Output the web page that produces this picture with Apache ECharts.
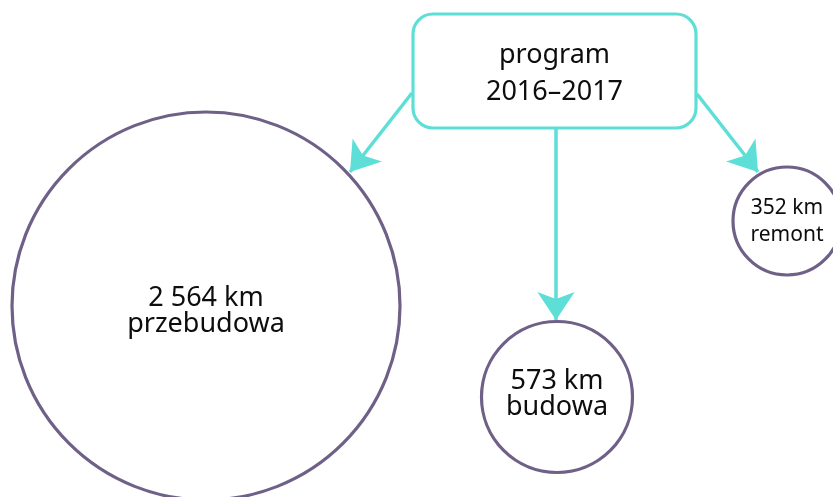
<!DOCTYPE html>
<html>
<head>
<meta charset="utf-8">
<script src="https://cdn.jsdelivr.net/npm/echarts@6/dist/echarts.min.js"></script>
<style>html,body{margin:0;padding:0;background:#fff}#c{width:833px;height:497px}</style>
</head>
<body>
<div id="c"></div>
<script>
// ---- data ----
const categories = ['przebudowa', 'budowa', 'remont'];
const lengthsKm = [2564, 573, 352];
const programLines = ['program', '2016–2017'];

// ---- layout (pixel space) ----
const centers = [[206, 306], [557, 397], [787, 221]];
const diameters = [388, 151, 108];
const labelSizes = [27, 27, 21];
const labelLineHeights = [26, 26, 27];
const labelOffsets = [[0, 5], [0, -3], [0, 1]];
const boxRect = { x: 413, y: 14, width: 283, height: 114, r: 20 };
const arrows = [
  [[412, 93], [350, 172]],
  [[556, 128], [556, 320]],
  [[697, 94], [758, 172]]
];

const CYAN = '#5ddfd8';
const PURPLE = '#6f6088';
const FONT = 'Noto Sans';

function fmt(v) { return String(v).replace(/\B(?=(\d{3})+(?!\d))/g, ' '); }

const chart = echarts.init(document.getElementById('c'), null, { renderer: 'canvas' });
chart.setOption({
  animation: false,
  backgroundColor: '#fff',
  grid: { left: 0, right: 0, top: 0, bottom: 0 },
  xAxis: { type: 'value', min: 0, max: 833, show: false },
  yAxis: { type: 'value', min: 0, max: 497, inverse: true, show: false },
  series: [
    {
      type: 'lines',
      coordinateSystem: 'cartesian2d',
      symbol: ['none', 'arrow'],
      symbolSize: 28,
      lineStyle: { color: CYAN, width: 3.5, opacity: 1 },
      data: arrows.map(a => ({ coords: a })),
      z: 1
    },
    {
      type: 'scatter',
      symbol: 'circle',
      z: 2,
      data: categories.map((c, i) => ({
        value: [centers[i][0], centers[i][1]],
        name: c,
        symbolSize: diameters[i],
        label: {
          show: true,
          position: 'inside',
          offset: labelOffsets[i],
          formatter: fmt(lengthsKm[i]) + ' km\n' + c,
          fontSize: labelSizes[i],
          lineHeight: labelLineHeights[i],
          color: '#0d0d0d',
          fontFamily: FONT
        }
      })),
      itemStyle: { color: '#fff', borderColor: PURPLE, borderWidth: 3.2, opacity: 1 }
    }
  ],
  graphic: [
    {
      type: 'rect',
      shape: boxRect,
      style: { fill: '#fff', stroke: CYAN, lineWidth: 3.2 },
      z: 10
    },
    {
      type: 'text',
      x: boxRect.x + boxRect.width / 2,
      y: boxRect.y + boxRect.height / 2 + 3,
      style: {
        text: programLines.join('\n'),
        fill: '#0d0d0d',
        font: '27px "Noto Sans"',
        lineHeight: 37,
        align: 'center',
        verticalAlign: 'middle'
      },
      z: 11
    }
  ]
});
</script>
</body>
</html>
